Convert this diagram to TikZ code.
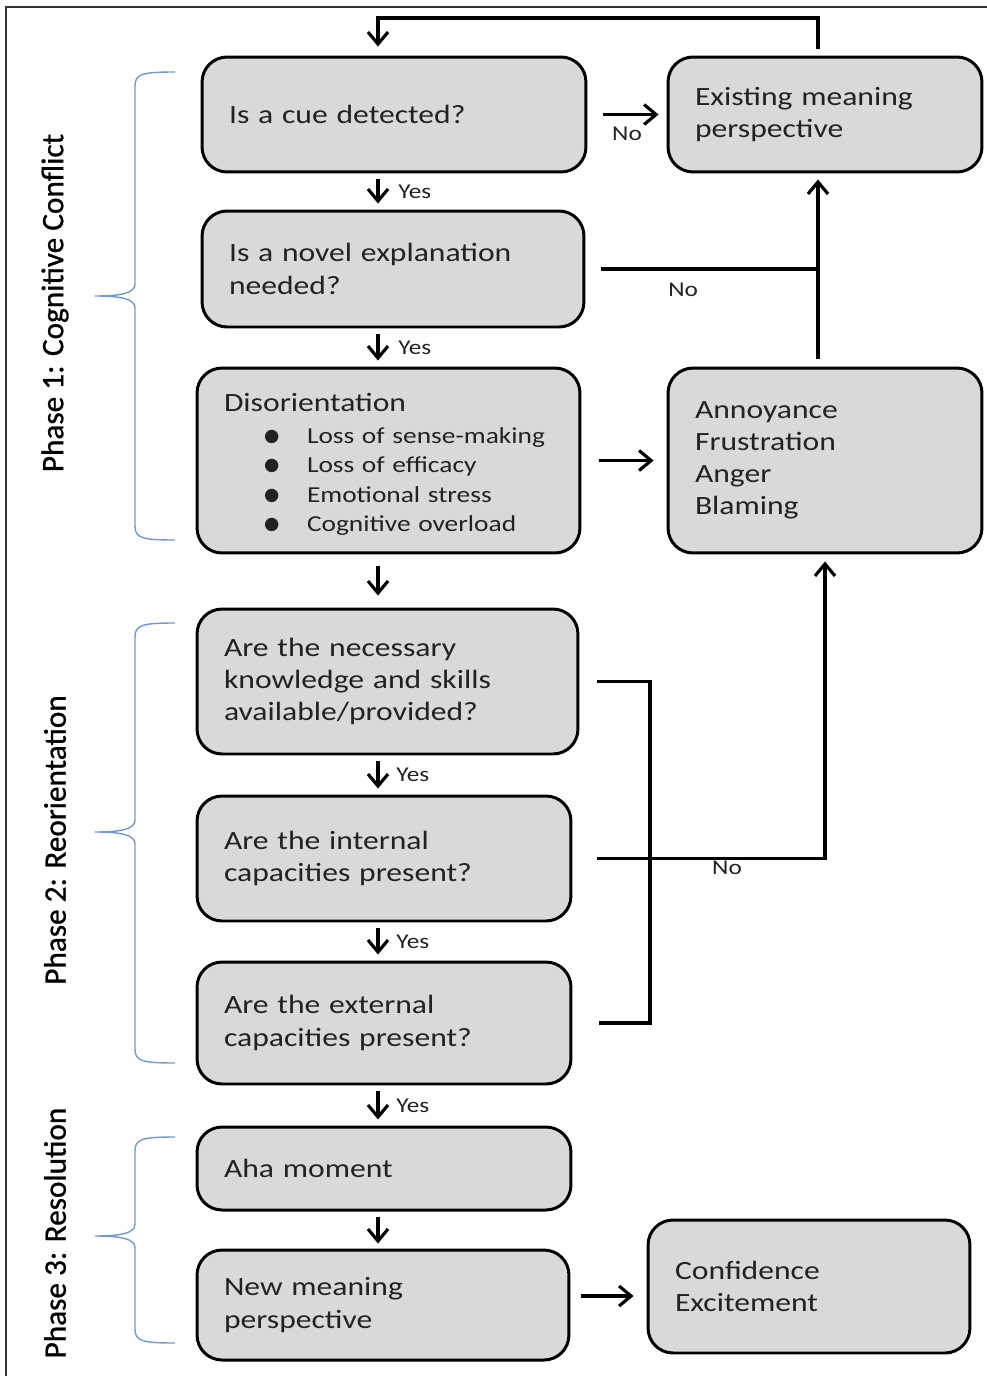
\documentclass[tikz,border=0pt]{standalone}
\usepackage{fontspec}
\setmainfont{Carlito}[FakeStretch=1.2]
\newfontfamily\phasefont{Carlito}[FakeBold=0.8]
\newfontfamily\symfont{DejaVu Sans}
\usetikzlibrary{arrows.meta}

\definecolor{boxgray}{HTML}{D9D9D9}
\definecolor{braceblue}{HTML}{7299CF}
\definecolor{txtgray}{HTML}{222222}

\newcommand{\blt}{\hspace*{0.80cm}\makebox[0.86cm][l]{\raisebox{1.2pt}{\symfont\fontsize{10}{10}\selectfont ●}}}

\tikzset{
  box/.style={draw=black, fill=boxgray, line width=1.7pt, rounded corners=0.5cm,
    align=left, inner xsep=0.54cm, inner ysep=0pt, text=txtgray,
    font=\fontsize{15}{18.3}\selectfont},
  arr/.style={line width=1.8pt, -{Straight Barb[length=2.4mm,width=4mm]}},
  link/.style={line width=1.8pt},
  lbl/.style={text=txtgray, font=\fontsize{12}{14}\selectfont, inner sep=1pt},
  brace/.style={draw=braceblue, line width=0.8pt},
  phase/.style={rotate=90, font=\phasefont\fontsize{17.8}{20}\selectfont},
}

\begin{document}
\begin{tikzpicture}[x=0.02cm, y=-0.02cm]
    \useasboundingbox (0,0) rectangle (987,1376);
    \draw[line width=1pt, black!80] (987,7) -- (6,7) -- (6,1376);

    % phase 1
    \node[box, text width=6.60cm, minimum height=2.30cm] (cue) at (394,114.5) {Is a cue detected?};
    \node[box, text width=5.20cm, minimum height=2.30cm] (exist) at (825,114.5) {Existing meaning\\perspective};
    \node[box, text width=6.56cm, minimum height=2.32cm] (novel) at (393,269) {Is a novel explanation\\needed?};
    \node[box, text width=6.58cm, minimum height=3.70cm, font=\fontsize{13}{16.7}\selectfont] (disor) at (388.5,460.5)
      {{\fontsize{15}{18.3}\selectfont\rule{0pt}{15pt}Disorientation}\\[1.4pt]
       \blt Loss of sense-making\\
       \blt Loss of efficacy\\
       \blt Emotional stress\\
       \blt Cognitive overload};
    \node[box, text width=5.20cm, minimum height=3.70cm] (annoy) at (825,460.5) {Annoyance\\Frustration\\Anger\\Blaming};

    % phase 2
    \node[box, text width=6.54cm, minimum height=2.90cm] (need) at (387.5,681.5) {Are the necessary\\knowledge and skills\\available/provided?};
    \node[box, text width=6.40cm, minimum height=2.50cm] (internal) at (384,858.5) {Are the internal\\capacities present?};
    \node[box, text width=6.40cm, minimum height=2.44cm] (external) at (384,1023) {Are the external\\capacities present?};

    % phase 3
    \node[box, text width=6.40cm, minimum height=1.66cm] (aha) at (384,1168.5) {Aha moment};
    \node[box, text width=6.36cm, minimum height=2.20cm] (newmp) at (383,1305) {New meaning\\perspective};
    \node[box, text width=5.36cm, minimum height=2.66cm] (conf) at (809,1286.5) {Confidence\\Excitement};

    \coordinate (col) at (378,0);
    \coordinate (up) at (818,0);
    \coordinate (topR) at (818,18);
    \coordinate (topL) at (378,18);
    \coordinate (spine) at (650,850);
    \coordinate (rowC) at (0,1296);

    % connectors
    \draw[arr, shorten <=0.14cm, shorten >=0.18cm] (exist.north -| topR) -- (topR) -- (topL) -- (cue.north -| topL);
    \draw[arr, shorten <=0.32cm, shorten >=0.16cm] (cue) -- node[lbl, below=5pt] (no1) {No} (exist);
    \draw[arr, shorten <=0.12cm, shorten >=0.12cm] (cue.south -| col) -- node[lbl, right=0.34cm] (yes1) {Yes} (novel.north -| col);
    \draw[link, shorten <=0.32cm] (novel.east) -- node[lbl, below=6pt, pos=0.42] (no2) {No} (novel.east -| up);
    \draw[arr, shorten <=0.16cm, shorten >=0.12cm] (annoy.north -| up) -- (exist.south -| up);
    \draw[arr, shorten <=0.12cm, shorten >=0.12cm] (novel.south -| col) -- node[lbl, right=0.34cm] (yes2) {Yes} (disor.north -| col);
    \draw[arr, shorten <=0.36cm, shorten >=0.26cm] (disor) -- (annoy);
    \draw[arr, shorten <=0.24cm, shorten >=0.24cm] (disor.south -| col) -- (need.north -| col);
    \draw[arr, shorten <=0.12cm, shorten >=0.12cm] (need.south -| col) -- node[lbl, right=0.3cm] (yes3) {Yes} (internal.north -| col);
    \draw[arr, shorten <=0.12cm, shorten >=0.12cm] (internal.south -| col) -- node[lbl, right=0.3cm] (yes4) {Yes} (external.north -| col);
    \draw[arr, shorten <=0.12cm, shorten >=0.12cm] (external.south -| col) -- node[lbl, right=0.3cm] (yes5) {Yes} (aha.north -| col);
    \draw[arr, shorten <=0.1cm, shorten >=0.1cm] (aha.south -| col) -- (newmp.north -| col);
    \draw[link, shorten <=0.36cm, shorten >=0.54cm] (need.east) -| (spine) |- (external.east);
    \draw[arr, shorten <=0.5cm, shorten >=0.14cm] (internal.east) -| (annoy.south);
    \node[lbl] (no3) at (727,868) {No};
    \draw[arr, shorten <=0.22cm, shorten >=0.26cm] (newmp.east |- rowC) -- (conf.west |- rowC);

    % braces and phase labels
    \foreach \t/\m/\b in {72/296/540, 623/832/1063, 1137/1236/1343} {
      \draw[brace] (175,\t) .. controls (142,\t) and (135,\t+2) .. (135,\t+14) -- (135,\m-12)
        .. controls (135,\m-3) and (122,\m) .. (95,\m) .. controls (122,\m) and (135,\m+3) .. (135,\m+12)
        -- (135,\b-14) .. controls (135,\b-2) and (142,\b) .. (175,\b);
    }
    \node[phase] (ph1) at (55,303) {Phase 1: Cognitive Conflict};
    \node[phase] (ph2) at (55,840) {Phase 2: Reorientation};
    \node[phase] (ph3) at (55,1233) {Phase 3: Resolution};
\end{tikzpicture}
\end{document}
